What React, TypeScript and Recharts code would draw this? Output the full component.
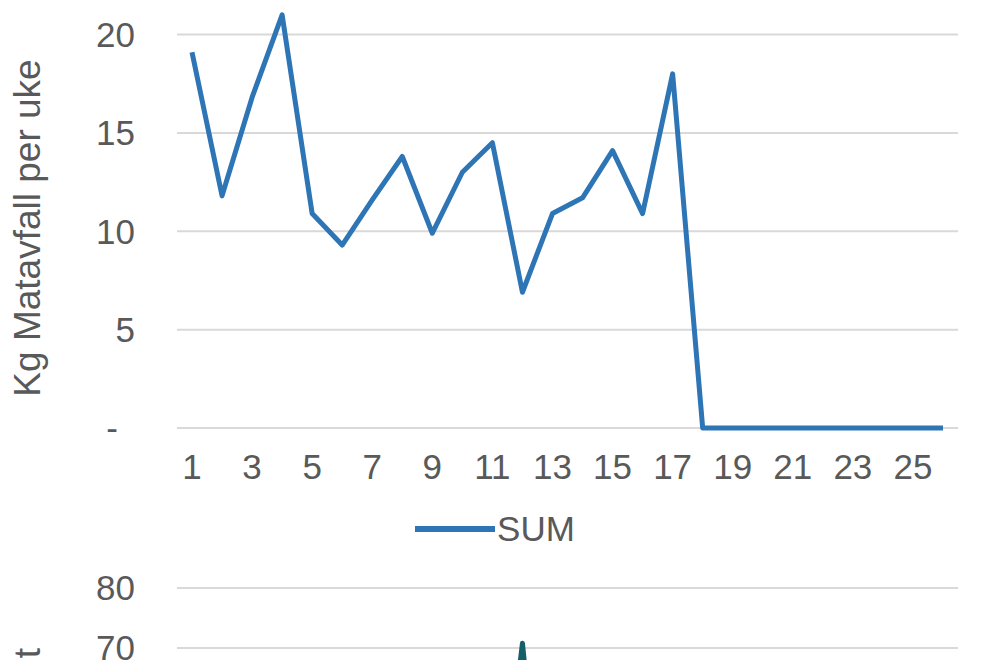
import { LineChart, Line, XAxis, YAxis, CartesianGrid, Legend } from 'recharts';

// uke 1..26
const weeks = [1, 2, 3, 4, 5, 6, 7, 8, 9, 10, 11, 12, 13, 14, 15, 16, 17, 18, 19, 20, 21, 22, 23, 24, 25, 26];
const sumKg = [19.1, 11.8, 16.8, 21, 10.9, 9.3, 11.6, 13.8, 9.9, 13.0, 14.5, 6.9, 10.9, 11.7, 14.1, 10.9, 18.0, 0, 0, 0, 0, 0, 0, 0, 0, 0];
// second chart, only the top is visible in the crop
const totalKg = [38, 24, 31, 42, 21, 18, 23, 27, 19, 25, 28, 70.8, 21, 23, 27, 21, 35, 0, 0, 0, 0, 0, 0, 0, 0, 0];
const topTicks = [0, 5, 10, 15, 20];
const bottomTicks = [0, 10, 20, 30, 40, 50, 60, 70, 80];

const FONT = '"Liberation Sans", Arial, sans-serif';
const TXT = '#595959';
const GRID = '#d9d9d9';

const data = weeks.map((w, i) => ({ week: w, sum: sumKg[i], total: totalKg[i] }));

// Excel accounting format draws 0 as a dash, shifted left
const YTick = ({ x, y, payload }: any) => (
    <text
        x={payload.value === 0 ? x - 17 : x}
        y={y}
        dy="0.355em"
        textAnchor="end"
        fill={TXT}
        fontSize={35}
        fontFamily={FONT}
    >
        {payload.value === 0 ? '-' : payload.value}
    </text>
);

// recharts overwrites x/y on label elements, so use own prop names
const RotLabel = ({ text, lx, ly, anchor }: any) => (
    <text
        x={lx}
        y={ly}
        transform={`rotate(-90, ${lx}, ${ly})`}
        textAnchor={anchor}
        fill={TXT}
        fontSize={37}
        fontFamily={FONT}
    >
        {text}
    </text>
);

const SumLegend = () => (
    <div style={{ display: 'flex', justifyContent: 'center', alignItems: 'center', fontFamily: FONT }}>
        <svg width={82} height={40}>
            <line x1={0} y1={20} x2={80} y2={20} stroke="#2e75b6" strokeWidth={6} />
        </svg>
        <span style={{ fontSize: 35, color: TXT, lineHeight: '40px' }}>SUM</span>
    </div>
);

export default function App() {
    return (
        <div style={{ position: 'fixed', left: 0, top: 0, width: 990, height: 660, overflow: 'hidden', background: '#fff' }}>
            <div style={{ position: 'absolute', left: 0, top: 0 }}>
                <LineChart width={990} height={560} data={data} margin={{ top: 5, right: 32, left: 0, bottom: 0 }}>
                    <CartesianGrid vertical={false} stroke={GRID} strokeWidth={2} syncWithTicks />
                    <XAxis
                        dataKey="week"
                        interval={1}
                        height={132}
                        padding={{ left: 15, right: 15 }}
                        axisLine={false}
                        tickLine={false}
                        tickSize={0}
                        tickMargin={26}
                        tick={{ fill: TXT, fontSize: 35, fontFamily: FONT }}
                    />
                    <YAxis
                        width={177}
                        domain={[0, 21.5]}
                        ticks={topTicks}
                        axisLine={false}
                        tickLine={false}
                        tickSize={0}
                        tickMargin={42}
                        tick={<YTick />}
                        label={<RotLabel text="Kg Matavfall per uke" lx={40} ly={228} anchor="middle" />}
                    />
                    <Legend
                        layout="horizontal"
                        verticalAlign="middle"
                        align="center"
                        wrapperStyle={{ top: 509, left: 0, width: 990 }}
                        content={() => <SumLegend />}
                    />
                    <Line
                        type="linear"
                        dataKey="sum"
                        name="SUM"
                        stroke="#2e75b6"
                        strokeWidth={5}
                        strokeLinejoin="round"
                        dot={false}
                        activeDot={false}
                        isAnimationActive={false}
                    />
                </LineChart>
            </div>
            <div style={{ position: 'absolute', left: 0, top: 560 }}>
                <LineChart width={990} height={640} data={data} margin={{ top: 28, right: 32, left: 0, bottom: 0 }}>
                    <CartesianGrid vertical={false} stroke={GRID} strokeWidth={2} syncWithTicks />
                    <XAxis
                        dataKey="week"
                        interval={1}
                        height={132}
                        padding={{ left: 15, right: 15 }}
                        axisLine={false}
                        tickLine={false}
                        tickSize={0}
                        tickMargin={26}
                        tick={{ fill: TXT, fontSize: 35, fontFamily: FONT }}
                    />
                    <YAxis
                        width={177}
                        domain={[0, 80]}
                        ticks={bottomTicks}
                        axisLine={false}
                        tickLine={false}
                        tickSize={0}
                        tickMargin={42}
                        tick={<YTick />}
                        label={<RotLabel text="Kg Matavfall totalt" lx={40} ly={88} anchor="end" />}
                    />
                    <Line
                        type="linear"
                        dataKey="total"
                        stroke="#145f68"
                        strokeWidth={5}
                        strokeLinejoin="round"
                        dot={false}
                        activeDot={false}
                        isAnimationActive={false}
                    />
                </LineChart>
            </div>
        </div>
    );
}
